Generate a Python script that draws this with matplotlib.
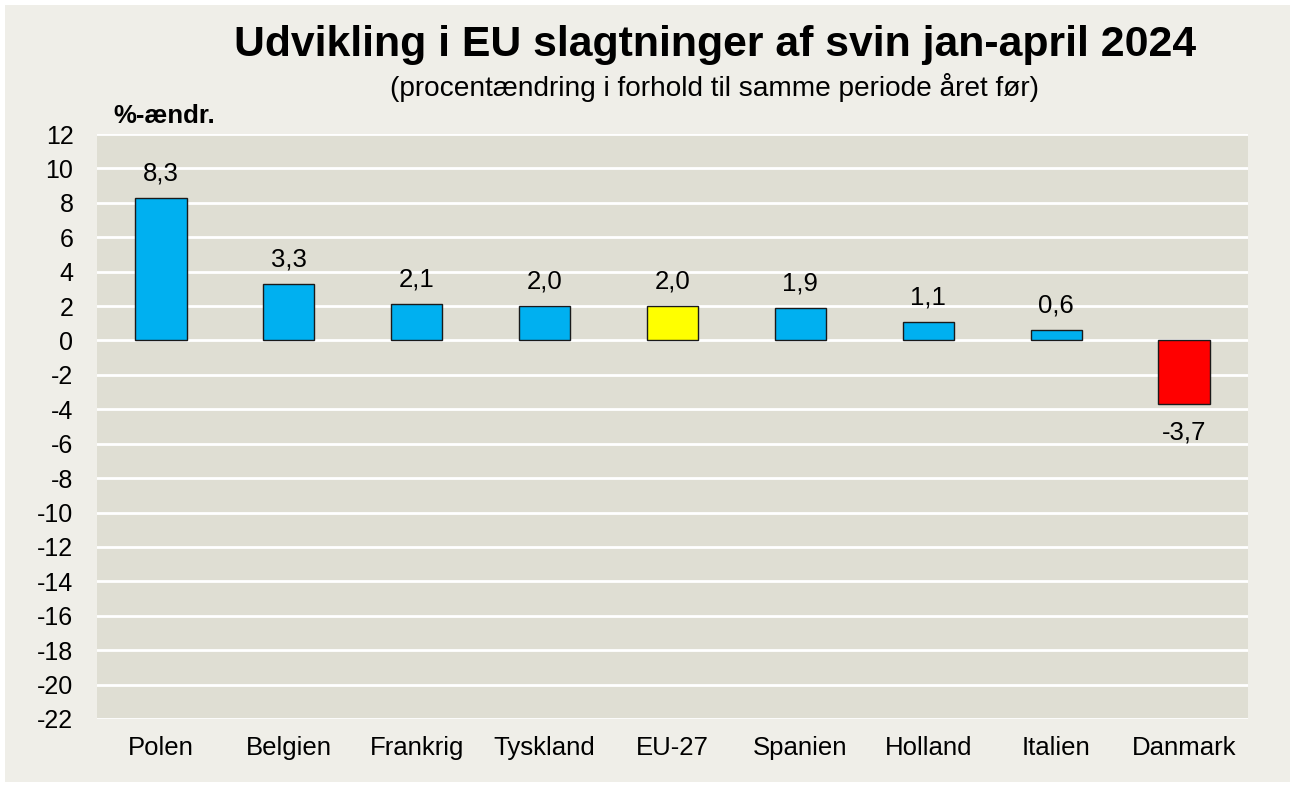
import matplotlib.pyplot as plt
from matplotlib.patches import Rectangle

plt.rcParams['font.family'] = ['Liberation Sans', 'DejaVu Sans']

countries = ['Polen', 'Belgien', 'Frankrig', 'Tyskland', 'EU-27',
             'Spanien', 'Holland', 'Italien', 'Danmark']
changes = [8.3, 3.3, 2.1, 2.0, 2.0, 1.9, 1.1, 0.6, -3.7]
bar_colors = ['#00B0F0'] * 4 + ['#FFFF00'] + ['#00B0F0'] * 3 + ['#FF0000']
yticks = list(range(-22, 13, 2))

fig = plt.figure(figsize=(12.96, 7.87), dpi=100, facecolor='white')
fig.patches.append(Rectangle((5 / 1296, 5 / 787), 1285 / 1296, 777 / 787,
                             transform=fig.transFigure, facecolor='#EFEEE8',
                             edgecolor='none', zorder=-10))

ax = fig.add_axes([97 / 1296, 1 - 719 / 787, (1248 - 97) / 1296, (719 - 134) / 787])
ax.set_facecolor('#DFDED3')

x = range(len(countries))
ax.bar(x, changes, width=0.4, color=bar_colors, edgecolor='#1a1a1a',
       linewidth=1.0, zorder=3)

for i, v in enumerate(changes):
    label = f'{v:.1f}'.replace('.', ',')
    if v >= 0:
        ax.annotate(label, (i, v), xytext=(0, 9), textcoords='offset points',
                    ha='center', va='bottom', fontsize=18.5)
    else:
        ax.annotate(label, (i, v), xytext=(0, -12), textcoords='offset points',
                    ha='center', va='top', fontsize=18.5)

ax.set_xlim(-0.5, len(countries) - 0.5)
ax.set_ylim(-22, 12)
ax.set_yticks(yticks)
ax.set_yticklabels([str(t) for t in yticks], fontsize=18)
ax.set_xticks(list(x))
ax.set_xticklabels(countries, fontsize=18.5)
ax.tick_params(length=0)
ax.tick_params(axis='y', pad=17)
ax.tick_params(axis='x', pad=12)
ax.grid(axis='y', color='white', linewidth=2, zorder=1)
for s in ax.spines.values():
    s.set_visible(False)

fig.text(715 / 1296, 1 - 45 / 787, 'Udvikling i EU slagtninger af svin jan-april 2024',
         ha='center', va='center', fontsize=30.8, fontweight='bold')
fig.text(715 / 1296, 1 - 88 / 787, '(procentændring i forhold til samme periode året før)',
         ha='center', va='center', fontsize=20.2)
fig.text(113 / 1296, 1 - 116 / 787, '%-ændr.', ha='left', va='center',
         fontsize=18.5, fontweight='bold')

fig.savefig('out.png', dpi=100, facecolor=fig.get_facecolor())
